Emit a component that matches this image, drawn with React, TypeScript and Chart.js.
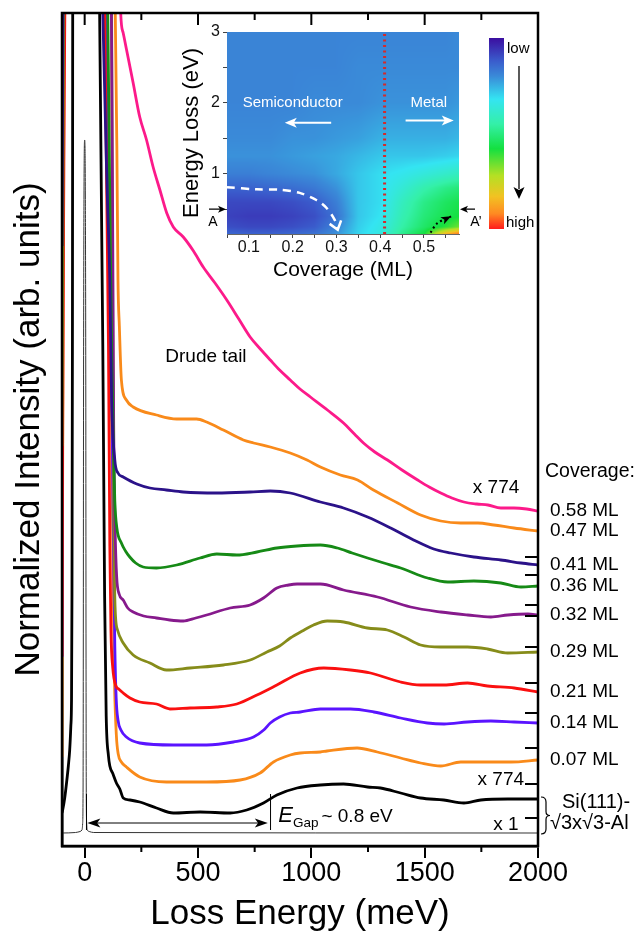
import { useEffect, useRef } from 'react';
import { Chart, registerables } from 'chart.js';

Chart.register(...registerables);

const FONT = "'Liberation Sans', Arial, Helvetica, sans-serif";

type Pt = [number, number];

// ---------------- main panel: loss energy (meV) vs normalized intensity (arb. units) ----------------
const coverageLabels = ['0.58 ML', '0.47 ML', '0.41 ML', '0.36 ML', '0.32 ML', '0.29 ML', '0.21 ML', '0.14 ML', '0.07 ML'];
const coverageColors = ['#fc1a8a', '#f98a1a', '#2b1289', '#168a16', '#861a8c', '#868c1a', '#fa1010', '#5a14ff', '#f98a1a'];

const spectrum058: Pt[] = [[-100, 950], [150, 950], [159, 833], [170, 813], [185, 796], [214, 763], [243, 729], [273, 706], [302, 679], [332, 656], [362, 633], [391, 619], [435, 609], [480, 595], [523, 579], [575, 563], [627, 546], [680, 527], [730, 509], [775, 497], [819, 486], [860, 476], [907, 466], [950, 457], [996, 449], [1071, 436], [1142, 423], [1190, 412], [1230, 403], [1280, 394], [1336, 386], [1400, 376], [1469, 366], [1520, 359], [1571, 353], [1620, 348], [1673, 344], [1730, 342], [1779, 341], [1836, 338], [1894, 338], [1950, 337], [2000, 335]];
const spectrum047: Pt[] = [[-100, 950], [125, 950], [135, 833], [142, 700], [147, 566], [153, 520], [162, 466], [184, 446], [214, 439], [317, 431], [406, 427], [494, 427], [538, 424], [612, 416], [700, 406], [745, 403], [819, 399], [907, 393], [981, 386], [1040, 379], [1128, 371], [1204, 366], [1274, 356], [1381, 343], [1482, 331], [1571, 325], [1659, 323], [1735, 323], [1805, 321], [1894, 318], [2000, 315]];
const spectrum041: Pt[] = [[-100, 600], [-92, 950], [72, 950], [80, 833], [100, 650], [111, 566], [119, 446], [133, 386], [147, 373], [170, 369], [230, 362], [288, 358], [360, 356], [435, 354], [583, 353], [730, 354], [819, 355], [907, 353], [1040, 344], [1142, 338], [1248, 329], [1350, 318], [1451, 306], [1540, 297], [1615, 293], [1717, 289], [1836, 286], [1925, 283], [2000, 281]];
const spectrum036: Pt[] = [[-100, 950], [95, 950], [102, 833], [113, 600], [120, 480], [127, 400], [133, 345], [142, 318], [162, 303], [180, 295], [199, 289], [225, 283], [258, 279], [317, 278], [406, 281], [509, 288], [583, 292], [671, 291], [760, 294], [848, 298], [937, 300], [1040, 301], [1115, 298], [1180, 293], [1248, 288], [1320, 283], [1394, 278], [1513, 268], [1602, 264], [1717, 265], [1836, 263], [1925, 259], [2000, 260]];
const spectrum032: Pt[] = [[-100, 950], [110, 950], [118, 833], [124, 600], [128, 420], [134, 320], [141, 270], [152, 252], [170, 246], [190, 238], [214, 234], [260, 230], [317, 228], [375, 226], [435, 225], [490, 228], [538, 231], [642, 238], [730, 241], [789, 248], [848, 258], [900, 261], [937, 262], [1040, 262], [1142, 256], [1292, 249], [1438, 239], [1571, 234], [1690, 231], [1792, 229], [1867, 231], [1956, 232], [2000, 231]];
const spectrum029: Pt[] = [[-100, 400], [-88, 950], [112, 950], [119, 833], [124, 520], [128, 340], [134, 240], [145, 216], [170, 203], [214, 191], [288, 183], [361, 176], [465, 178], [612, 181], [730, 186], [804, 194], [860, 200], [907, 208], [960, 215], [1010, 221], [1070, 225], [1143, 224], [1247, 218], [1335, 216], [1409, 209], [1482, 201], [1571, 199], [1689, 199], [1777, 197], [1866, 193], [2000, 194]];
const spectrum021: Pt[] = [[-100, 190], [-97, 420], [-80, 950], [80, 950], [88, 833], [105, 500], [111, 300], [116, 215], [124, 178], [138, 160], [150, 157], [170, 153], [200, 148], [243, 144], [317, 142], [376, 137], [465, 138], [583, 139], [671, 142], [760, 151], [848, 161], [951, 173], [1055, 178], [1173, 176], [1261, 173], [1394, 164], [1482, 161], [1586, 161], [1689, 163], [1777, 160], [1895, 158], [2000, 154]];
const spectrum014: Pt[] = [[-100, 189], [-99, 420], [-92, 950], [85, 950], [93, 833], [110, 600], [120, 450], [127, 300], [133, 200], [139, 148], [147, 126], [160, 116], [184, 109], [243, 103], [391, 101], [538, 101], [656, 104], [745, 109], [790, 116], [819, 123], [860, 129], [907, 133], [951, 134], [1040, 137], [1173, 137], [1276, 134], [1394, 128], [1512, 123], [1586, 122], [1689, 124], [1792, 125], [1895, 124], [2000, 123]];
const spectrum007: Pt[] = [[-100, 89], [-98, 300], [-86, 950], [85, 950], [93, 833], [112, 600], [120, 400], [126, 250], [132, 160], [140, 110], [148, 92], [162, 84], [184, 79], [243, 69], [361, 64], [538, 64], [686, 66], [774, 73], [833, 84], [907, 91], [951, 93], [1040, 94], [1069, 95], [1202, 98], [1291, 94], [1394, 88], [1482, 83], [1571, 80], [1659, 84], [1762, 84], [1881, 84], [2000, 86]];
const cleanX774: Pt[] = [[-100, 33], [-97, 36], [-88, 48], [-80, 63], [-72, 80], [-66, 96], [-61, 120], [-58, 146], [-56, 250], [-54, 500], [-52, 950], [58, 950], [66, 833], [80, 500], [88, 250], [95, 130], [105, 90], [111, 80], [125, 72], [140, 63], [155, 57], [170, 48], [200, 46], [243, 44], [317, 38], [391, 33], [509, 34], [642, 33], [715, 36], [789, 43], [848, 51], [937, 58], [1040, 61], [1142, 62], [1248, 59], [1305, 58], [1394, 53], [1482, 48], [1584, 46], [1673, 43], [1748, 46], [1867, 47], [2000, 47]];
const cleanX1: Pt[] = [[-100, 13], [-40, 13.5], [-20, 14.5], [-12, 16], [-9, 22], [-7, 60], [-6, 200], [-5, 450], [-3, 650], [0, 706], [3, 650], [5, 450], [6, 200], [7, 60], [9, 22], [12, 16], [20, 14.5], [40, 13.5], [2000, 13]];

const coverageSeries = [spectrum058, spectrum047, spectrum041, spectrum036, spectrum032, spectrum029, spectrum021, spectrum014, spectrum007];

const xMajorTicks = [0, 500, 1000, 1500, 2000];
const xMinorTicks = [250, 750, 1250, 1750];
const baselineTicks = [289, 271, 241, 230, 199, 163, 133, 98, 62, 28];
const gapEnergy = 820;

// ---------------- inset: loss map vs coverage ----------------
const mapCoverage = [0.05, 0.1, 0.15, 0.2, 0.25, 0.3, 0.35, 0.4, 0.45, 0.5, 0.55, 0.58];
const mapEnergy = [0.15, 0.25, 0.4, 0.6, 0.8, 1.0, 1.25, 1.5, 2.0, 2.5, 3.0];
const mapIntensity = [
  [0.14, 0.13, 0.13, 0.14, 0.16, 0.21, 0.3, 0.35, 0.48, 0.58, 0.86, 0.95],
  [0.1, 0.09, 0.09, 0.1, 0.12, 0.19, 0.29, 0.34, 0.45, 0.53, 0.6, 0.66],
  [0.08, 0.07, 0.07, 0.08, 0.1, 0.16, 0.28, 0.32, 0.43, 0.51, 0.56, 0.58],
  [0.09, 0.09, 0.09, 0.1, 0.12, 0.18, 0.28, 0.31, 0.41, 0.49, 0.54, 0.56],
  [0.13, 0.13, 0.14, 0.15, 0.17, 0.21, 0.28, 0.31, 0.37, 0.44, 0.49, 0.51],
  [0.18, 0.18, 0.19, 0.2, 0.21, 0.24, 0.28, 0.31, 0.33, 0.36, 0.39, 0.41],
  [0.21, 0.21, 0.21, 0.22, 0.23, 0.24, 0.26, 0.28, 0.28, 0.28, 0.29, 0.3],
  [0.2, 0.2, 0.2, 0.21, 0.21, 0.22, 0.23, 0.25, 0.25, 0.25, 0.25, 0.26],
  [0.19, 0.19, 0.19, 0.19, 0.2, 0.2, 0.2, 0.21, 0.21, 0.21, 0.21, 0.22],
  [0.19, 0.19, 0.19, 0.19, 0.19, 0.19, 0.2, 0.2, 0.2, 0.2, 0.2, 0.2],
  [0.19, 0.19, 0.19, 0.19, 0.19, 0.19, 0.19, 0.19, 0.19, 0.19, 0.19, 0.2],
];
const colorbarStops = [0, 0.12, 0.2, 0.32, 0.45, 0.58, 0.72, 0.83, 0.92, 1];
const colorbarColors = ['#3b0ea0', '#3a5ccc', '#3a8ad8', '#34e4f2', '#34f0a8', '#14e040', '#b4e024', '#f2c222', '#ff8a22', '#ff1c1c'];
const boundaryCurve: Pt[] = [[0.05, 0.81], [0.117, 0.78], [0.17, 0.775], [0.216, 0.73], [0.254, 0.63], [0.277, 0.52], [0.296, 0.35], [0.303, 0.21]];
const transitionLine: Pt[] = [[0.41, 0.15], [0.41, 3.0]];
const metalArrow: Pt[] = [[0.515, 0.17], [0.53, 0.3], [0.562, 0.4]];
const insetCovTicks = [0.05, 0.1, 0.15, 0.2, 0.25, 0.3, 0.35, 0.4, 0.45, 0.5, 0.55];
const insetETicks = [0.5, 1, 1.5, 2, 2.5, 3];
const cutEnergy = 0.5;

function hexRgb(h: string): number[] {
  return [parseInt(h.slice(1, 3), 16), parseInt(h.slice(3, 5), 16), parseInt(h.slice(5, 7), 16)];
}
const cmapRgb = colorbarColors.map(hexRgb);
function cmap(t: number): number[] {
  const v = Math.max(0, Math.min(1, t));
  let k = 0;
  while (k < colorbarStops.length - 2 && v > colorbarStops[k + 1]) k++;
  const f = (v - colorbarStops[k]) / (colorbarStops[k + 1] - colorbarStops[k]);
  const a = cmapRgb[k], b = cmapRgb[k + 1];
  return [a[0] + (b[0] - a[0]) * f, a[1] + (b[1] - a[1]) * f, a[2] + (b[2] - a[2]) * f];
}
function locate(arr: number[], v: number): [number, number] {
  let i = 0;
  while (i < arr.length - 2 && v > arr[i + 1]) i++;
  const f = Math.max(0, Math.min(1, (v - arr[i]) / (arr[i + 1] - arr[i])));
  return [i, f];
}
function sampleMap(c: number, e: number): number {
  const [i, fx] = locate(mapCoverage, c);
  const [j, fy] = locate(mapEnergy, e);
  const v00 = mapIntensity[j][i], v10 = mapIntensity[j][i + 1];
  const v01 = mapIntensity[j + 1][i], v11 = mapIntensity[j + 1][i + 1];
  return (v00 * (1 - fx) + v10 * fx) * (1 - fy) + (v01 * (1 - fx) + v11 * fx) * fy;
}

function filledHead(ctx: CanvasRenderingContext2D, x0: number, y0: number, x1: number, y1: number, len: number, wid: number, color: string) {
  const ang = Math.atan2(y1 - y0, x1 - x0);
  ctx.save();
  ctx.translate(x1, y1);
  ctx.rotate(ang);
  ctx.beginPath();
  ctx.moveTo(0, 0);
  ctx.lineTo(-len, -wid / 2);
  ctx.lineTo(-len * 0.75, 0);
  ctx.lineTo(-len, wid / 2);
  ctx.closePath();
  ctx.fillStyle = color;
  ctx.fill();
  ctx.restore();
}
function openHead(ctx: CanvasRenderingContext2D, x0: number, y0: number, x1: number, y1: number, len: number, wid: number, color: string, lw: number) {
  const ang = Math.atan2(y1 - y0, x1 - x0);
  ctx.save();
  ctx.translate(x1, y1);
  ctx.rotate(ang);
  ctx.beginPath();
  ctx.moveTo(-len, -wid / 2);
  ctx.lineTo(0, 0);
  ctx.lineTo(-len, wid / 2);
  ctx.strokeStyle = color;
  ctx.lineWidth = lw;
  ctx.setLineDash([]);
  ctx.stroke();
  ctx.restore();
}

const mainDecor = {
  id: 'mainDecor',
  afterDraw(chart: any) {
    const { ctx } = chart;
    const x = chart.scales.x, y = chart.scales.y;
    const a = { left: x.left, right: x.right, top: y.top, bottom: y.bottom };
    const px = (v: number) => x.getPixelForValue(v);
    const py = (v: number) => y.getPixelForValue(v);
    ctx.save();
    ctx.strokeStyle = '#000';
    ctx.lineWidth = 2.5;
    ctx.strokeRect(a.left, a.top, a.right - a.left, a.bottom - a.top);
    ctx.lineWidth = 2;
    ctx.beginPath();
    xMinorTicks.forEach((v) => {
      ctx.moveTo(px(v), a.bottom); ctx.lineTo(px(v), a.bottom + 6);
      ctx.moveTo(px(v), a.top); ctx.lineTo(px(v), a.top + 7);
    });
    xMajorTicks.forEach((v) => { ctx.moveTo(px(v), a.top); ctx.lineTo(px(v), a.top + 12); });
    baselineTicks.forEach((v) => { ctx.moveTo(a.right, py(v)); ctx.lineTo(a.right - 13, py(v)); });
    ctx.stroke();

    ctx.fillStyle = '#000';
    ctx.textBaseline = 'middle';
    ctx.textAlign = 'left';
    ctx.font = `19.5px ${FONT}`;
    ctx.fillText('Coverage:', a.right + 7, py(374));
    ctx.font = `19px ${FONT}`;
    coverageSeries.forEach((s, i) => {
      ctx.fillText(coverageLabels[i], a.right + 12, py(s[s.length - 1][1]));
    });
    ctx.font = `20px ${FONT}`;
    ctx.fillText('Si(111)-', a.right + 24, py(44));
    ctx.fillText('\u221A3x\u221A3-Al', a.right + 12, py(23));

    ctx.textAlign = 'center';
    ctx.font = `19px ${FONT}`;
    ctx.fillText('x 774', px(1815), py(358));
    ctx.fillText('x 774', px(1836), py(66));
    ctx.fillText('x 1', px(1858), py(21));
    ctx.fillText('Drude tail', px(535), py(489));

    // brace
    const bTop = py(47) - 2, bBot = py(13) + 1, mid = (bTop + bBot) / 2, bx = a.right + 3;
    ctx.lineWidth = 1.2;
    ctx.beginPath();
    ctx.moveTo(bx, bTop);
    ctx.quadraticCurveTo(bx + 5, bTop, bx + 5, bTop + 5);
    ctx.lineTo(bx + 5, mid - 4);
    ctx.quadraticCurveTo(bx + 5, mid, bx + 9, mid);
    ctx.quadraticCurveTo(bx + 5, mid, bx + 5, mid + 4);
    ctx.lineTo(bx + 5, bBot - 5);
    ctx.quadraticCurveTo(bx + 5, bBot, bx, bBot);
    ctx.stroke();

    // gap arrow
    const ay = py(23);
    const xl = px(12), xr = px(gapEnergy - 12);
    ctx.lineWidth = 1;
    ctx.beginPath();
    ctx.moveTo(xl + 6, ay); ctx.lineTo(xr - 6, ay);
    ctx.moveTo(px(gapEnergy), py(16)); ctx.lineTo(px(gapEnergy), py(52));
    ctx.moveTo(px(8), py(16)); ctx.lineTo(px(8), py(52));
    ctx.stroke();
    filledHead(ctx, xr - 10, ay, xr, ay, 13, 9, '#000');
    filledHead(ctx, xl + 10, ay, xl, ay, 13, 9, '#000');

    ctx.textAlign = 'left';
    ctx.textBaseline = 'alphabetic';
    const ex = px(854), ey = py(24);
    ctx.font = `italic 22px ${FONT}`;
    ctx.fillText('E', ex, ey);
    let cx = ex + ctx.measureText('E').width;
    ctx.font = `13.5px ${FONT}`;
    ctx.fillText('Gap', cx, ey + 5);
    cx += ctx.measureText('Gap').width + 3;
    ctx.font = `19px ${FONT}`;
    ctx.fillText('~ 0.8 eV', cx, ey);
    ctx.restore();
  },
};

const insetDecor = {
  id: 'insetDecor',
  beforeDatasetsDraw(chart: any) {
    const { ctx, chartArea: a } = chart;
    const x = chart.scales.x, y = chart.scales.y;
    const w = Math.round(a.right - a.left), h = Math.round(a.bottom - a.top);
    const off = document.createElement('canvas');
    off.width = w; off.height = h;
    const octx = off.getContext('2d')!;
    const img = octx.createImageData(w, h);
    for (let j = 0; j < h; j++) {
      const e = y.getValueForPixel(a.top + j + 0.5);
      for (let i = 0; i < w; i++) {
        const c = x.getValueForPixel(a.left + i + 0.5);
        const [r, g, b] = cmap(sampleMap(c, e));
        const k = (j * w + i) * 4;
        img.data[k] = r; img.data[k + 1] = g; img.data[k + 2] = b; img.data[k + 3] = 255;
      }
    }
    octx.putImageData(img, 0, 0);
    ctx.drawImage(off, a.left, a.top);
  },
  afterDatasetsDraw(chart: any) {
    const { ctx } = chart;
    const x = chart.scales.x, y = chart.scales.y;
    const px = (v: number) => x.getPixelForValue(v);
    const py = (v: number) => y.getPixelForValue(v);
    ctx.save();
    const b1 = boundaryCurve[boundaryCurve.length - 2], b2 = boundaryCurve[boundaryCurve.length - 1];
    openHead(ctx, px(b1[0]), py(b1[1]), px(b2[0]), py(b2[1]), 8, 12, '#fff', 2.5);
    const m1 = metalArrow[metalArrow.length - 2], m2 = metalArrow[metalArrow.length - 1];
    filledHead(ctx, px(m1[0]), py(m1[1]), px(m2[0]), py(m2[1]), 10, 8, '#000');
    ctx.fillStyle = '#fff';
    ctx.strokeStyle = '#fff';
    ctx.font = `15px ${FONT}`;
    ctx.textAlign = 'center';
    ctx.textBaseline = 'middle';
    ctx.fillText('Semiconductor', px(0.2), py(2.0));
    ctx.fillText('Metal', px(0.511), py(2.0));
    ctx.lineWidth = 2;
    ctx.beginPath();
    ctx.moveTo(px(0.288), py(1.72)); ctx.lineTo(px(0.19), py(1.72));
    ctx.moveTo(px(0.458), py(1.75)); ctx.lineTo(px(0.56), py(1.75));
    ctx.stroke();
    filledHead(ctx, px(0.2), py(1.72), px(0.182), py(1.72), 12, 10, '#fff');
    filledHead(ctx, px(0.55), py(1.75), px(0.568), py(1.75), 12, 10, '#fff');
    ctx.restore();
  },
  afterDraw(chart: any) {
    const { ctx, chartArea: a } = chart;
    const y = chart.scales.y;
    ctx.save();
    const yc = y.getPixelForValue(cutEnergy);
    ctx.strokeStyle = '#000';
    ctx.lineWidth = 1.3;
    ctx.beginPath();
    ctx.moveTo(a.left - 18, yc); ctx.lineTo(a.left - 6, yc);
    ctx.moveTo(a.right + 16, yc); ctx.lineTo(a.right + 6, yc);
    ctx.stroke();
    filledHead(ctx, a.left - 10, yc, a.left - 1, yc, 8, 7, '#000');
    filledHead(ctx, a.right + 10, yc, a.right + 1, yc, 8, 7, '#000');
    ctx.fillStyle = '#000';
    ctx.font = `14px ${FONT}`;
    ctx.textBaseline = 'middle';
    ctx.textAlign = 'center';
    ctx.fillText('A', a.left - 14, yc + 13);
    ctx.fillText('A\u2019', a.right + 17, yc + 13);
    const cbL = a.right + 30, cbW = 15, cbT = a.top + 6, cbB = a.bottom - 5;
    const grad = ctx.createLinearGradient(0, cbT, 0, cbB);
    colorbarStops.forEach((s, i) => grad.addColorStop(s, colorbarColors[i]));
    ctx.fillStyle = grad;
    ctx.fillRect(cbL, cbT, cbW, cbB - cbT);
    ctx.fillStyle = '#000';
    ctx.font = `15px ${FONT}`;
    ctx.textAlign = 'left';
    ctx.fillText('low', cbL + 18, cbT + 11);
    ctx.fillText('high', cbL + 17, cbB - 6);
    const ax = cbL + 30;
    ctx.lineWidth = 1.3;
    ctx.beginPath();
    ctx.moveTo(ax, cbT + 28); ctx.lineTo(ax, cbB - 40);
    ctx.stroke();
    filledHead(ctx, ax, cbB - 50, ax, cbB - 30, 12, 11, '#000');
    ctx.restore();
  },
};

function mainConfig(): any {
  const datasets: any[] = coverageSeries.map((s, i) => ({
    label: coverageLabels[i],
    data: s.map(([x, y]) => ({ x, y })),
    borderColor: coverageColors[i],
    borderWidth: 2.8,
    pointRadius: 0,
    cubicInterpolationMode: 'monotone',
    clip: 0,
    fill: false,
  }));
  datasets.push({
    label: 'Si(111) x774',
    data: cleanX774.map(([x, y]) => ({ x, y })),
    borderColor: '#000',
    borderWidth: 2.8,
    pointRadius: 0,
    cubicInterpolationMode: 'monotone',
    clip: 0,
    fill: false,
  });
  datasets.push({
    label: 'Si(111) x1',
    data: cleanX1.map(([x, y]) => ({ x, y })),
    borderColor: '#333',
    borderWidth: 1,
    pointRadius: 0,
    cubicInterpolationMode: 'monotone',
    clip: 0,
    fill: false,
  });
  return {
    type: 'line',
    data: { datasets },
    options: {
      responsive: false,
      animation: false,
      events: [],
      layout: { padding: { top: 13, right: 98, left: 0, bottom: 0 } },
      plugins: { legend: { display: false }, tooltip: { enabled: false } },
      scales: {
        x: {
          type: 'linear',
          position: 'bottom',
          min: -100,
          max: 2000,
          afterBuildTicks: (s: any) => { s.ticks = xMajorTicks.map((v) => ({ value: v })); },
          afterFit: (s: any) => { s.height = 89; },
          ticks: { color: '#000', font: { family: FONT, size: 27, lineHeight: 1.1 }, padding: 1, maxRotation: 0, autoSkip: false, callback: (v: any) => String(v) },
          grid: { drawOnChartArea: false, drawTicks: true, tickLength: 12, color: '#000', lineWidth: 2 },
          border: { display: true, color: '#000', width: 2.5 },
          title: { display: true, text: 'Loss Energy (meV)', color: '#000', font: { family: FONT, size: 35, lineHeight: 1 }, padding: { top: 0, bottom: 3.5 } },
        },
        y: {
          type: 'linear',
          min: 0,
          max: 833,
          afterFit: (s: any) => { s.width = 62; },
          ticks: { display: false },
          grid: { display: true, drawOnChartArea: false, drawTicks: false },
          border: { display: true, color: '#000', width: 2.5 },
          title: { display: true, text: 'Normalized Intensity (arb. units)', color: '#000', font: { family: FONT, size: 35, lineHeight: 1.2 }, padding: { top: 8, bottom: 12 } },
        },
      },
    },
    plugins: [mainDecor],
  };
}

function insetConfig(): any {
  const line = (pts: Pt[], color: string, dash: number[], width: number, tension: number) => ({
    data: pts.map(([x, y]) => ({ x, y })),
    borderColor: color,
    borderDash: dash,
    borderWidth: width,
    pointRadius: 0,
    tension,
    fill: false,
  });
  return {
    type: 'line',
    data: {
      datasets: [
        line(boundaryCurve, '#ffffff', [8, 6], 2.5, 0.3),
        line(transitionLine, '#d42a2a', [2, 3.5], 3, 0),
        line(metalArrow, '#000000', [2, 3], 2, 0.3),
      ],
    },
    options: {
      responsive: false,
      animation: false,
      events: [],
      layout: { padding: { top: 17, right: 77, left: 0, bottom: 0 } },
      plugins: { legend: { display: false }, tooltip: { enabled: false } },
      scales: {
        x: {
          type: 'linear',
          min: 0.05,
          max: 0.58,
          afterBuildTicks: (s: any) => { s.ticks = insetCovTicks.map((v) => ({ value: v })); },
          afterFit: (s: any) => { s.height = 56; },
          ticks: {
            color: '#111', font: { family: FONT, size: 16, lineHeight: 1.1 }, padding: 1, maxRotation: 0, autoSkip: false,
            callback: (v: any) => (Math.abs(v * 10 - Math.round(v * 10)) < 1e-6 ? Number(v).toFixed(1) : ''),
          },
          grid: { drawOnChartArea: false, drawTicks: true, tickLength: 4, color: '#444', lineWidth: 1 },
          border: { display: true, color: '#666', width: 1 },
          title: { display: true, text: 'Coverage (ML)', color: '#000', font: { family: FONT, size: 21, lineHeight: 1 }, padding: { top: 0, bottom: 9.5 } },
        },
        y: {
          type: 'linear',
          min: 0.15,
          max: 3,
          afterBuildTicks: (s: any) => { s.ticks = insetETicks.map((v) => ({ value: v })); },
          afterFit: (s: any) => { s.width = 57; },
          ticks: {
            color: '#111', font: { family: FONT, size: 16 }, padding: 3, autoSkip: false,
            callback: (v: any) => (Number.isInteger(v) ? String(v) : ''),
          },
          grid: { drawOnChartArea: false, drawTicks: true, tickLength: 4, color: '#444', lineWidth: 1 },
          border: { display: true, color: '#666', width: 1 },
          title: { display: true, text: 'Energy Loss (eV)', color: '#000', font: { family: FONT, size: 22, lineHeight: 1.2 }, padding: { top: 9, bottom: 0 } },
        },
      },
    },
    plugins: [insetDecor],
  };
}

export default function App() {
  const mainRef = useRef<HTMLCanvasElement>(null);
  const insetRef = useRef<HTMLCanvasElement>(null);
  useEffect(() => {
    const main = new Chart(mainRef.current as HTMLCanvasElement, mainConfig());
    const inset = new Chart(insetRef.current as HTMLCanvasElement, insetConfig());
    return () => {
      main.destroy();
      inset.destroy();
    };
  }, []);
  return (
    <div style={{ position: 'absolute', left: 0, top: 0, width: 636, height: 935, background: '#fff' }}>
      <canvas ref={mainRef} width={636} height={935} style={{ position: 'absolute', left: 0, top: 0, width: 636, height: 935 }} />
      <canvas ref={insetRef} width={366} height={275} style={{ position: 'absolute', left: 170, top: 15, width: 366, height: 275 }} />
    </div>
  );
}
